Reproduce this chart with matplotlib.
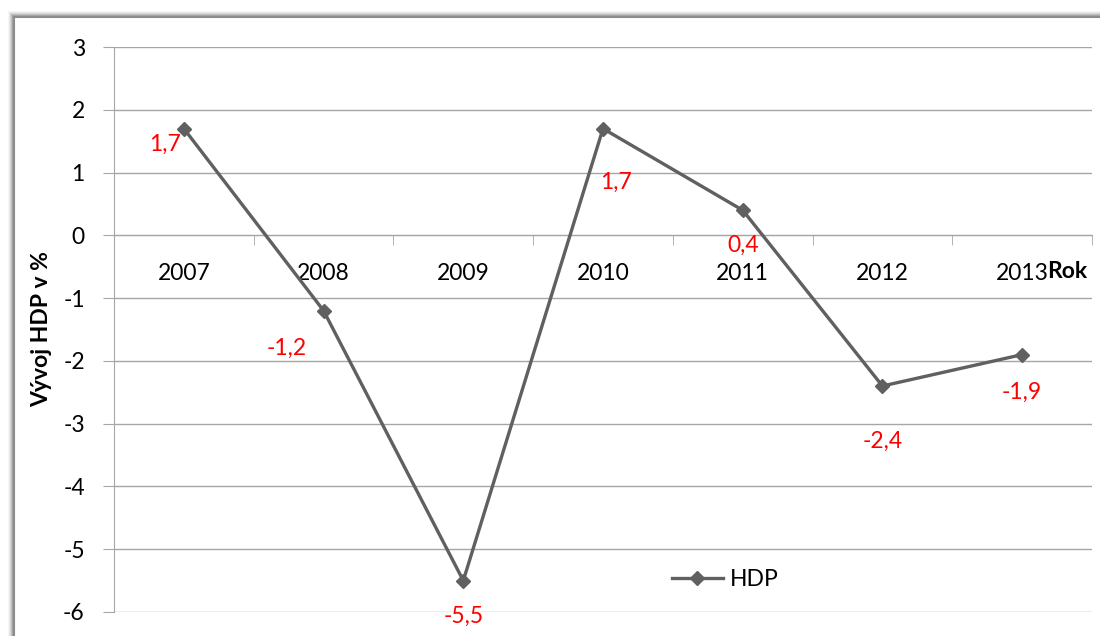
import matplotlib.pyplot as plt
import numpy as np
from matplotlib.patches import Rectangle

years = ['2007', '2008', '2009', '2010', '2011', '2012', '2013']
hdp = [1.7, -1.2, -5.5, 1.7, 0.4, -2.4, -1.9]
labels = ['1,7', '-1,2', '-5,5', '1,7', '0,4', '-2,4', '-1,9']
# label offsets in pixels (dx, dy) relative to each point
offsets = [(-19, -16), (-37, -38), (0, -36), (13, -54), (0, -35), (0, -55), (0, -38)]

plt.rcParams['font.family'] = ['Lato', 'DejaVu Sans']

fig = plt.figure(figsize=(11, 6.36), dpi=100)

# outer chart frame with soft shadow (pixel units)
W, H = 1100, 636
for i, a in enumerate([0.06, 0.1, 0.15, 0.22, 0.3]):
    s = 6 - i
    fig.patches.append(Rectangle(((14 - s) / W, -0.1), 1.2, 1 - (17 - s) / H + 0.1,
                                 transform=fig.transFigure, facecolor='#707070',
                                 alpha=a, edgecolor='none', zorder=-3))
fig.patches.append(Rectangle((14 / W, -0.1), 1.2, 1 - 17 / H + 0.1,
                             transform=fig.transFigure, facecolor='white',
                             edgecolor='#8c8c8c', linewidth=1.5, zorder=-2))

ax = fig.add_axes([114 / W, 1 - 612 / H, 978 / W, 565 / H])
ax.set_facecolor('none')
x = np.arange(len(years))
ax.plot(x, hdp, color='#606060', linewidth=2.4, marker='D', markersize=7,
        label='HDP', zorder=3)

for xi, yi, lab, (dx, dy) in zip(x, hdp, labels, offsets):
    ax.annotate(lab, (xi, yi), xytext=(dx * 0.72, dy * 0.72), textcoords='offset points',
                ha='center', va='center', color='red', fontsize=16.5)

ax.set_xlim(-0.5, len(years) - 0.5)
ax.set_ylim(-6, 3)
ax.set_yticks(range(-6, 4))
ax.set_yticklabels([str(v) for v in range(-6, 4)])
ax.grid(axis='y', color='#a6a6a6', linewidth=1)
ax.set_axisbelow(True)

for side in ['top', 'right']:
    ax.spines[side].set_visible(False)
ax.spines['left'].set_color('#a6a6a6')
ax.spines['bottom'].set_position(('data', 0))
ax.spines['bottom'].set_color('#a6a6a6')

ax.set_xticks(x)
ax.set_xticklabels(years)
ax.set_xticks(np.arange(-0.5, len(years)), minor=True)
ax.tick_params(axis='x', which='major', length=0, pad=20, labelsize=16.5)
ax.tick_params(axis='x', which='minor', length=7, color='#a6a6a6', direction='out')
ax.tick_params(axis='y', length=8, color='#a6a6a6', pad=13, labelsize=16.5)

ax.set_ylabel('Vývoj HDP v %', fontsize=16.5, fontweight='bold', labelpad=8)
ax.text(0.975, 0.602, 'Rok', transform=ax.transAxes, fontsize=16.5, fontweight='bold',
        ha='center', va='center')

ax.legend(loc='center', bbox_to_anchor=(0.625, 0.057), frameon=False, fontsize=16.5,
          handlelength=2.2, handletextpad=0.3)

fig.savefig('out.png', dpi=100)
